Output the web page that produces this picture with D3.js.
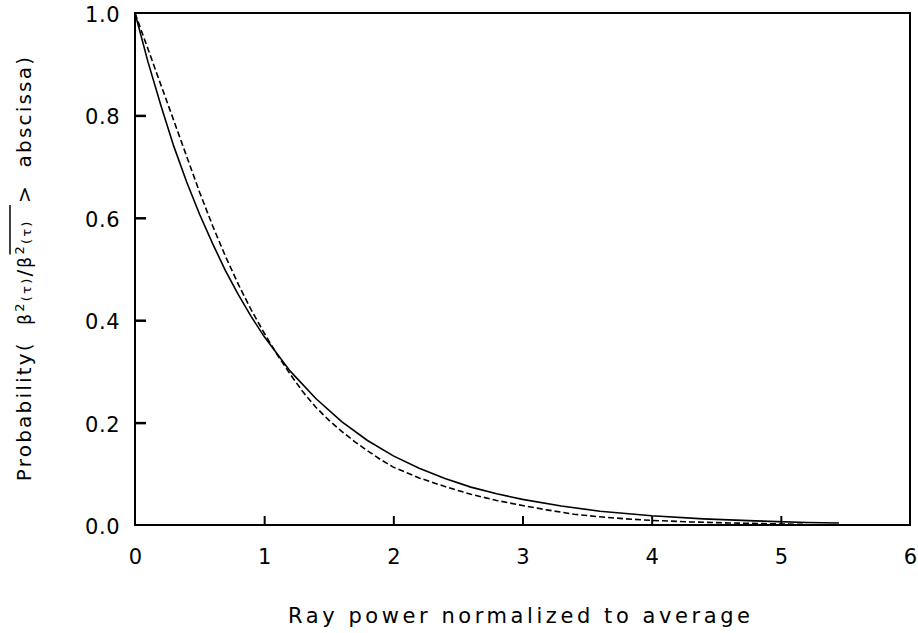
<!DOCTYPE html>
<html>
<head>
<meta charset="utf-8">
<script src="https://cdn.jsdelivr.net/npm/d3@7"></script>
<style>
  html, body { margin: 0; padding: 0; background: #fff; }
  svg { display: block; }
  text { font-family: "DejaVu Sans", sans-serif; fill: #000; }
</style>
</head>
<body>
<svg id="chart" width="918" height="633"></svg>
<script>
// ---- data ----
const xTicks = [0, 1, 2, 3, 4, 5, 6];
const xTickLabels = ["0", "1", "2", "3", "4", "5", "6"];
const yTicks = [0, 0.2, 0.4, 0.6, 0.8, 1.0];
const yTickLabels = ["0.0", "0.2", "0.4", "0.6", "0.8", "1.0"];

// solid curve (theoretical)
const solidX = [0, 0.1, 0.2, 0.3, 0.4, 0.5, 0.6, 0.7, 0.8, 0.9, 1.0, 1.2, 1.4, 1.6, 1.8, 2.0, 2.2, 2.4, 2.6, 2.8, 3.0, 3.3, 3.6, 4.0, 4.4, 4.8, 5.2, 5.45];
const solidY = [1.0, 0.905, 0.82, 0.74, 0.67, 0.607, 0.55, 0.497, 0.45, 0.407, 0.368, 0.301, 0.247, 0.202, 0.165, 0.135, 0.111, 0.091, 0.074, 0.061, 0.05, 0.037, 0.027, 0.018, 0.012, 0.008, 0.005, 0.004];

// dashed curve (measured)
const dashX = [0, 0.1, 0.2, 0.3, 0.4, 0.5, 0.6, 0.7, 0.8, 0.9, 1.0, 1.1, 1.2, 1.3, 1.4, 1.5, 1.6, 1.7, 1.8, 1.9, 2.0, 2.2, 2.4, 2.6, 2.8, 3.0, 3.2, 3.4, 3.6, 3.8, 4.0, 4.3, 4.6, 5.0, 5.2];
const dashY = [1.0, 0.93, 0.86, 0.79, 0.72, 0.65, 0.585, 0.525, 0.47, 0.42, 0.375, 0.333, 0.295, 0.26, 0.23, 0.205, 0.183, 0.163, 0.145, 0.128, 0.113, 0.092, 0.075, 0.06, 0.048, 0.038, 0.029, 0.021, 0.016, 0.012, 0.009, 0.006, 0.004, 0.002, 0.001];

const xTitle = "Ray power normalized to average";

// ---- layout ----
const svg = d3.select("#chart");
const L = 135, R = 910, T = 13, B = 525;

const x = d3.scaleLinear().domain([0, 6]).range([L, R]);
const y = d3.scaleLinear().domain([0, 1]).range([B, T]);

// frame
svg.append("rect")
  .attr("x", L).attr("y", T).attr("width", R - L).attr("height", B - T)
  .attr("fill", "none").attr("stroke", "#000").attr("stroke-width", 2);

// x axis ticks (inward) and labels
const xAxis = d3.axisBottom(x).tickValues(xTicks)
  .tickFormat((d, i) => xTickLabels[i]).tickSizeInner(-9).tickSizeOuter(0).tickPadding(24);
const gx = svg.append("g").attr("transform", `translate(0,${B})`).call(xAxis);
gx.select(".domain").remove();
gx.selectAll(".tick line").attr("stroke", "#000").attr("stroke-width", 2)
  .attr("opacity", d => (d === 0 || d === 6) ? 0 : 1);
gx.selectAll(".tick text").attr("font-size", 21).attr("font-family", "DejaVu Sans");

// y axis ticks (inward) and labels
const yAxis = d3.axisLeft(y).tickValues(yTicks)
  .tickFormat((d, i) => yTickLabels[i]).tickSizeInner(-11).tickSizeOuter(0).tickPadding(15);
const gy = svg.append("g").attr("transform", `translate(${L},0)`).call(yAxis);
gy.select(".domain").remove();
gy.selectAll(".tick line").attr("stroke", "#000").attr("stroke-width", 2.5)
  .attr("opacity", d => (d === 0 || d === 1) ? 0 : 1);
gy.selectAll(".tick text").attr("font-size", 21).attr("font-family", "DejaVu Sans")
  .attr("letter-spacing", 0.5).attr("dy", "0.4em");

// curves
const line = d3.line().x(d => x(d[0])).y(d => y(d[1]));
svg.append("path")
  .datum(solidX.map((v, i) => [v, solidY[i]]))
  .attr("d", line).attr("fill", "none").attr("stroke", "#000").attr("stroke-width", 1.6);
svg.append("path")
  .datum(dashX.map((v, i) => [v, dashY[i]]))
  .attr("d", line).attr("fill", "none").attr("stroke", "#000").attr("stroke-width", 1.6)
  .attr("stroke-dasharray", "6,3");

// x title
svg.append("text")
  .attr("x", 288).attr("y", 623)
  .attr("font-size", 21)
  .attr("textLength", 462).attr("lengthAdjust", "spacing")
  .text(xTitle);

// y title (rotated)
const gyt = svg.append("g").attr("transform", "translate(31,268) rotate(-90)");
const yt = gyt.append("text")
  .attr("text-anchor", "middle")
  .attr("font-size", 20)
  .attr("letter-spacing", 2.2)
  .attr("word-spacing", 8);
yt.append("tspan").text("Probability(  ");
yt.append("tspan").attr("font-size", 17).text("β");
yt.append("tspan").attr("font-size", 13).attr("dy", -7).text("2");
yt.append("tspan").attr("font-size", 13).attr("dy", 7).text("(τ)");
yt.append("tspan").text("/");
yt.append("tspan").attr("font-size", 17).text("β");
yt.append("tspan").attr("font-size", 13).attr("dy", -7).text("2");
yt.append("tspan").attr("font-size", 13).attr("dy", 7).text("(τ)");
yt.append("tspan").text("  >  abscissa)");

// overline over the averaged term
const node = yt.node();
const full = node.textContent;
const start = full.indexOf("/") + 1;
const end = full.indexOf("(τ)", start) + 2;
const p0 = node.getStartPositionOfChar(start);
const p1 = node.getEndPositionOfChar(end);
gyt.append("line")
  .attr("x1", p0.x).attr("x2", p1.x - 2)
  .attr("y1", -21).attr("y2", -21)
  .attr("stroke", "#000").attr("stroke-width", 1.5);
</script>
</body>
</html>
